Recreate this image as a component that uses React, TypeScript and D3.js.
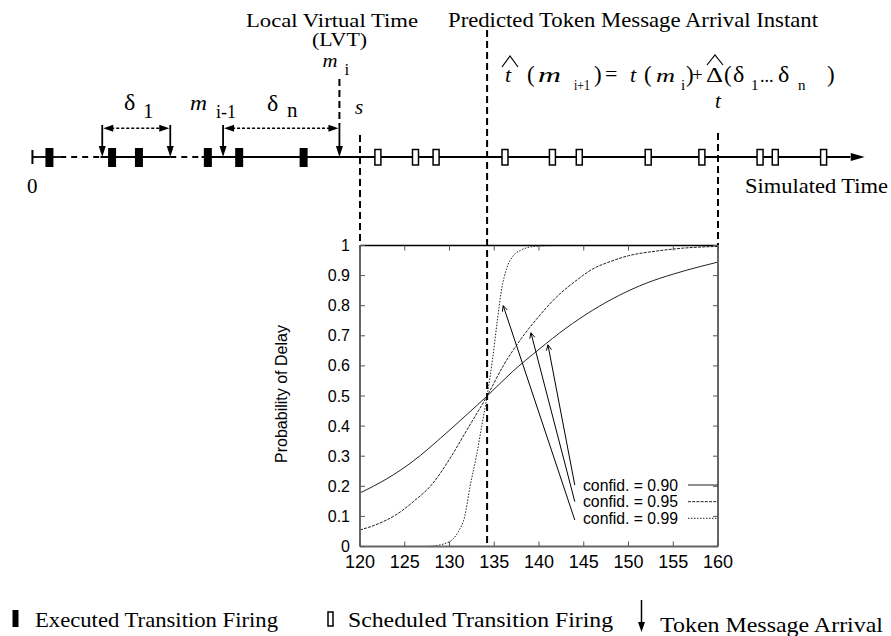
import React from 'react';
import * as d3 from 'd3';

// ---------- data ----------
const xTicks = [120, 125, 130, 135, 140, 145, 150, 155, 160];
const yTicks = [0, 0.1, 0.2, 0.3, 0.4, 0.5, 0.6, 0.7, 0.8, 0.9, 1];
const yTickLabels = ['0', '0.1', '0.2', '0.3', '0.4', '0.5', '0.6', '0.7', '0.8', '0.9', '1'];

const conf90: [number, number][] = [
  [120, 0.178], [123, 0.225], [126, 0.285], [129, 0.36], [132, 0.44], [134.2, 0.5],
  [137, 0.58], [140, 0.655], [143, 0.725], [146, 0.785], [149, 0.835], [152, 0.875],
  [155, 0.905], [158, 0.93], [160, 0.945],
];
const conf95: [number, number][] = [
  [120, 0.055], [122, 0.075], [124, 0.105], [126, 0.15], [128, 0.205], [130, 0.29],
  [132, 0.39], [134.2, 0.5], [136, 0.6], [138, 0.69], [140, 0.765], [142, 0.83],
  [144, 0.88], [146, 0.922], [148, 0.947], [150, 0.966], [153, 0.981], [156, 0.991], [160, 0.997],
];
const conf99: [number, number][] = [
  [127.5, 0.0], [128.5, 0.003], [129.5, 0.01], [130.3, 0.022], [131, 0.05], [131.7, 0.1],
  [132.3, 0.2], [133, 0.3], [133.6, 0.4], [134.2, 0.5], [134.8, 0.62], [135.3, 0.74],
  [135.8, 0.85], [136.4, 0.925], [137.1, 0.965], [138, 0.985], [139, 0.995], [140.5, 0.999],
  [142.5, 1.0], [160, 1.0],
];
const seriesLabels = ['confid. = 0.90', 'confid. = 0.95', 'confid. = 0.99'];
const seriesDash = ['none', '3,1.2', '1.5,1.5'];
// annotation arrows: tail (near legend) -> tip (near curve)
const arrowTails: [number, number][] = [[144.0, 0.204], [144.0, 0.149], [144.0, 0.088]];
const arrowTips: [number, number][] = [[141.0, 0.67], [139.1, 0.71], [136.0, 0.80]];

// timeline (simulated time, same units as the plot's x axis)
const timelineStart = 83.4;
const timelineEnd = 176.4;
const dashedGaps: [number, number][] = [[86.5, 91.0], [98.8, 102.3]];
const executedFirings = [85.3, 92.3, 95.3, 103.0, 106.5, 113.7];
const scheduledFirings = [122.0, 126.2, 128.5, 136.2, 141.5, 144.5, 152.2, 158.2, 164.7, 166.4, 171.8];
const tokenArrivals = [91.2, 98.8, 104.7, 117.7];
const lvtTime = 117.7;
const sTime = 120;
const predictedTime = 134.2;
const tTime = 160;

const SERIF = '"Liberation Serif", "Times New Roman", serif';
const SANS = '"Liberation Sans", Arial, Helvetica, sans-serif';

export default function App() {
  const W = 891, H = 636;
  const left = 360, right = 718, top = 245.5, bottom = 546.5;
  const x = d3.scaleLinear().domain([120, 160]).range([left, right]);
  const y = d3.scaleLinear().domain([0, 1]).range([bottom, top]);
  const line = d3.line<[number, number]>().x(d => x(d[0])).y(d => y(d[1])).curve(d3.curveMonotoneX);
  const series = [conf90, conf95, conf99];

  const tlY = 157;
  const arrowTop = 125;
  const dblY = 128.3;

  const solidSegs: [number, number][] = [];
  let cur = timelineStart;
  dashedGaps.forEach(g => { solidSegs.push([cur, g[0]]); cur = g[1]; });
  solidSegs.push([cur, timelineEnd - 1.6]);

  const openHead = (tx: number, ty: number, fx: number, fy: number, len = 6, ang = 0.45) => {
    const a = Math.atan2(ty - fy, tx - fx);
    const p1 = [tx - len * Math.cos(a - ang), ty - len * Math.sin(a - ang)];
    const p2 = [tx - len * Math.cos(a + ang), ty - len * Math.sin(a + ang)];
    return `M${p1[0]},${p1[1]}L${tx},${ty}L${p2[0]},${p2[1]}`;
  };

  const legendRowY = [485, 501.7, 518.3];
  const fBase = 82;
  const fSub = 90;

  return (
    <svg width={W} height={H} style={{ position: 'absolute', left: 0, top: 0, background: '#fff' }}>
      <rect x={0} y={0} width={W} height={H} fill="#fff" />
      <defs>
        <clipPath id="plotClip">
          <rect x={left} y={top} width={right - left} height={bottom - top} />
        </clipPath>
      </defs>

      {/* ---------- top timeline ---------- */}
      <line x1={x(timelineStart)} x2={x(timelineStart)} y1={tlY - 7} y2={tlY + 7} stroke="#000" strokeWidth={2} />
      {solidSegs.map((s, i) => (
        <line key={'s' + i} x1={x(s[0])} x2={x(s[1])} y1={tlY} y2={tlY} stroke="#000" strokeWidth={1.8} />
      ))}
      {dashedGaps.map((g, i) => (
        <line key={'g' + i} x1={x(g[0])} x2={x(g[1])} y1={tlY} y2={tlY} stroke="#000" strokeWidth={1.8} strokeDasharray="6,5" />
      ))}
      <path d={`M${x(timelineEnd)},${tlY}L${x(timelineEnd) - 14},${tlY - 4}L${x(timelineEnd) - 14},${tlY + 4}Z`} fill="#000" />

      {executedFirings.map((v, i) => (
        <rect key={'e' + i} x={x(v) - 4} y={148} width={8} height={19} fill="#000" />
      ))}
      {scheduledFirings.map((v, i) => (
        <rect key={'o' + i} x={x(v) - 3} y={149.5} width={6} height={15.5} fill="#fff" stroke="#000" strokeWidth={1.5} />
      ))}
      {tokenArrivals.map((v, i) => (
        <g key={'t' + i}>
          <line x1={x(v)} x2={x(v)} y1={arrowTop} y2={tlY - 8} stroke="#000" strokeWidth={1.8} />
          <path d={`M${x(v)},${tlY}L${x(v) - 3.5},${tlY - 11}L${x(v) + 3.5},${tlY - 11}Z`} fill="#000" />
        </g>
      ))}
      {[[tokenArrivals[0], tokenArrivals[1]], [tokenArrivals[2], tokenArrivals[3]]].map((p, i) => {
        const a = x(p[0]), b = x(p[1]);
        return (
          <g key={'d' + i}>
            <line x1={a + 9} x2={b - 9} y1={dblY} y2={dblY} stroke="#000" strokeWidth={1.5} strokeDasharray="3,2" />
            <path d={`M${a + 1},${dblY}L${a + 11},${dblY - 3.5}L${a + 11},${dblY + 3.5}Z`} fill="#000" />
            <path d={`M${b - 1},${dblY}L${b - 11},${dblY - 3.5}L${b - 11},${dblY + 3.5}Z`} fill="#000" />
          </g>
        );
      })}

      {/* vertical dashed markers */}
      <line x1={x(lvtTime)} x2={x(lvtTime)} y1={79} y2={arrowTop} stroke="#000" strokeWidth={2} strokeDasharray="7,4" />
      <line x1={x(sTime)} x2={x(sTime)} y1={135} y2={top} stroke="#000" strokeWidth={2} strokeDasharray="7,4" />
      <line x1={x(tTime)} x2={x(tTime)} y1={133} y2={top} stroke="#000" strokeWidth={2} strokeDasharray="7,4" />

      {/* timeline labels */}
      <text x={332} y={27} fontFamily={SERIF} fontSize={19} textAnchor="middle" textLength={172} lengthAdjust="spacingAndGlyphs">Local Virtual Time</text>
      <text x={339.5} y={46} fontFamily={SERIF} fontSize={19} textAnchor="middle" textLength={55} lengthAdjust="spacingAndGlyphs">(LVT)</text>
      <text x={448} y={26.5} fontFamily={SERIF} fontSize={21} textLength={370} lengthAdjust="spacingAndGlyphs">Predicted Token Message Arrival Instant</text>
      <text x={745} y={193} fontFamily={SERIF} fontSize={22} textLength={143} lengthAdjust="spacingAndGlyphs">Simulated Time</text>
      <text x={27} y={193} fontFamily={SERIF} fontSize={21}>0</text>

      <text x={x(lvtTime) - 17} y={67} fontFamily={SERIF} fontSize={18} fontStyle="italic" textLength={15} lengthAdjust="spacingAndGlyphs">m</text>
      <text x={x(lvtTime) + 5} y={75} fontFamily={SERIF} fontSize={17}>i</text>
      <text x={x(sTime) - 5} y={114} fontFamily={SERIF} fontSize={21} fontStyle="italic">s</text>
      <text x={x(tTime) - 3} y={108} fontFamily={SERIF} fontSize={21} fontStyle="italic">t</text>

      <text x={124} y={110} fontFamily={SERIF} fontSize={24}>δ</text>
      <text x={143} y={118} fontFamily={SERIF} fontSize={21}>1</text>
      <text x={190} y={110} fontFamily={SERIF} fontSize={20} fontStyle="italic" textLength={17} lengthAdjust="spacingAndGlyphs">m</text>
      <text x={216} y={118} fontFamily={SERIF} fontSize={18}>i-1</text>
      <text x={267} y={111} fontFamily={SERIF} fontSize={24}>δ</text>
      <text x={287} y={117} fontFamily={SERIF} fontSize={21}>n</text>

      {/* formula */}
      <g fontFamily={SERIF}>
        <text x={505} y={fBase} fontSize={22} fontStyle="italic">t</text>
        <path d="M502,67L510,56L518,67" fill="none" stroke="#000" strokeWidth={1.2} />
        <text x={527} y={fBase} fontSize={23}>(</text>
        <text x={538} y={fBase} fontSize={20} fontStyle="italic" textLength={23} lengthAdjust="spacingAndGlyphs">m</text>
        <text x={574} y={fSub} fontSize={15} textLength={16} lengthAdjust="spacingAndGlyphs">i+1</text>
        <text x={594} y={fBase} fontSize={23}>)</text>
        <text x={605} y={fBase - 1} fontSize={22}>=</text>
        <text x={630} y={fBase} fontSize={22} fontStyle="italic">t</text>
        <text x={644} y={fBase} fontSize={23}>(</text>
        <text x={656} y={fBase} fontSize={19} fontStyle="italic" textLength={19} lengthAdjust="spacingAndGlyphs">m</text>
        <text x={681} y={fSub} fontSize={15}>i</text>
        <text x={686} y={fBase} fontSize={23}>)</text>
        <text x={692} y={fBase - 1} fontSize={19}>+</text>
        <text x={706} y={fBase} fontSize={22} textLength={17} lengthAdjust="spacingAndGlyphs">Δ</text>
        <path d="M707,65L715,55L723,65" fill="none" stroke="#000" strokeWidth={1.2} />
        <text x={724} y={fBase} fontSize={23}>(</text>
        <text x={733} y={fBase} fontSize={24}>δ</text>
        <text x={751} y={fSub} fontSize={15}>1</text>
        <text x={760} y={fBase} fontSize={18}>...</text>
        <text x={778} y={fBase} fontSize={24}>δ</text>
        <text x={798} y={fSub} fontSize={15}>n</text>
        <text x={827} y={fBase} fontSize={23}>)</text>
      </g>

      {/* ---------- plot ---------- */}
      <g clipPath="url(#plotClip)">
        {series.map((s, i) => (
          <path key={'c' + i} d={line(s) || ''} fill="none" stroke="#222" strokeWidth={1} strokeDasharray={seriesDash[i]} />
        ))}
      </g>

      {/* frame */}
      <line x1={left} x2={right} y1={top} y2={top} stroke="#000" strokeWidth={1.5} />
      <line x1={left} x2={left} y1={top} y2={bottom} stroke="#666" strokeWidth={2} />
      <line x1={right} x2={right} y1={top} y2={bottom} stroke="#666" strokeWidth={2} />
      <line x1={left} x2={right} y1={bottom} y2={bottom} stroke="#666" strokeWidth={2} />

      {xTicks.map((t, i) => (
        <g key={'xt' + i}>
          <line x1={x(t)} x2={x(t)} y1={bottom} y2={bottom - 5} stroke="#555" strokeWidth={1} />
          <line x1={x(t)} x2={x(t)} y1={top} y2={top + 5} stroke="#555" strokeWidth={1} />
          <text x={x(t)} y={567.5} fontFamily={SANS} fontSize={18} textAnchor="middle">{t}</text>
        </g>
      ))}
      {yTicks.map((t, i) => (
        <g key={'yt' + i}>
          <line x1={left} x2={left + 5} y1={y(t)} y2={y(t)} stroke="#555" strokeWidth={1} />
          <line x1={right} x2={right - 5} y1={y(t)} y2={y(t)} stroke="#555" strokeWidth={1} />
          <text x={350} y={y(t) + 5.5} fontFamily={SANS} fontSize={16} textAnchor="end">{yTickLabels[i]}</text>
        </g>
      ))}
      <text transform="translate(287,394) rotate(-90)" fontFamily={SANS} fontSize={16} textAnchor="middle">Probability of Delay</text>

      {/* predicted instant dashed line */}
      <line x1={x(predictedTime)} x2={x(predictedTime)} y1={30} y2={bottom} stroke="#000" strokeWidth={2} strokeDasharray="7,4" />

      {/* annotation arrows */}
      {arrowTips.map((tip, i) => {
        const tx = x(tip[0]), ty = y(tip[1]);
        const fx = x(arrowTails[i][0]), fy = y(arrowTails[i][1]);
        return (
          <g key={'a' + i}>
            <line x1={fx} y1={fy} x2={tx} y2={ty} stroke="#000" strokeWidth={1} />
            <path d={openHead(tx, ty, fx, fy)} fill="none" stroke="#000" strokeWidth={1} />
          </g>
        );
      })}

      {/* legend */}
      {seriesLabels.map((lab, i) => (
        <g key={'l' + i}>
          <text x={right - 40} y={legendRowY[i] + 5.5} fontFamily={SANS} fontSize={16} textAnchor="end" textLength={95} lengthAdjust="spacingAndGlyphs">{lab}</text>
          <line x1={right - 30} x2={right} y1={legendRowY[i]} y2={legendRowY[i]} stroke="#222" strokeWidth={1} strokeDasharray={seriesDash[i]} />
        </g>
      ))}

      {/* ---------- bottom legend ---------- */}
      <rect x={12.5} y={610} width={6} height={17} fill="#000" />
      <text x={35} y={627} fontFamily={SERIF} fontSize={22} textLength={243} lengthAdjust="spacingAndGlyphs">Executed Transition Firing</text>
      <rect x={328} y={612} width={5} height={14} fill="#fff" stroke="#000" strokeWidth={1.5} />
      <text x={348} y={627} fontFamily={SERIF} fontSize={22} textLength={265} lengthAdjust="spacingAndGlyphs">Scheduled Transition Firing</text>
      <line x1={641.5} x2={641.5} y1={600} y2={624} stroke="#000" strokeWidth={1.5} />
      <path d="M641.5,632L638,622L645,622Z" fill="#000" />
      <text x={660} y={632} fontFamily={SERIF} fontSize={22} textLength={223} lengthAdjust="spacingAndGlyphs">Token Message Arrival</text>
    </svg>
  );
}
